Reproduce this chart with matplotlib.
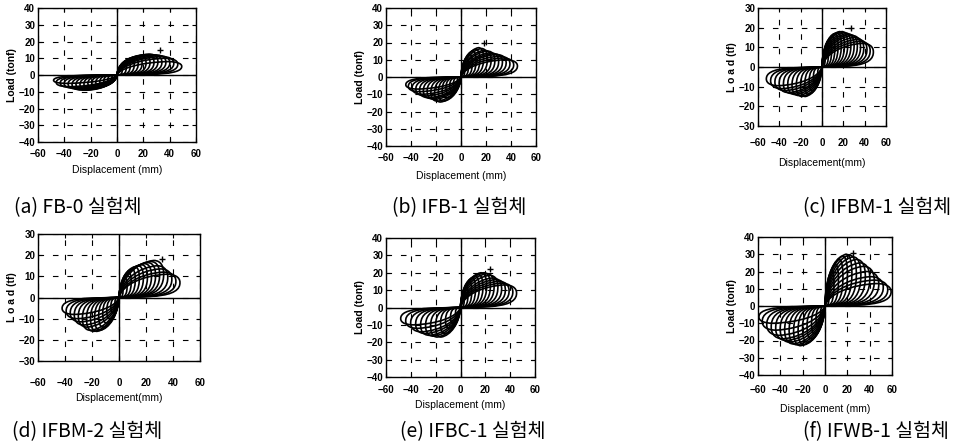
import matplotlib
matplotlib.use("Agg")
import matplotlib.pyplot as plt
from matplotlib.path import Path
from matplotlib.patches import PathPatch

W, H = 955, 445
plt.rcParams['font.family'] = ['Liberation Sans', 'DejaVu Sans']

# ---------------- data ----------------
captions = ["(a) FB-0 실험체", "(b) IFB-1 실험체", "(c) IFBM-1 실험체",
            "(d) IFBM-2 실험체", "(e) IFBC-1 실험체", "(f) IFWB-1 실험체"]

# (a) FB-0
a_pos_disp = [4, 7, 10, 13, 16, 19, 22, 25, 28, 31, 34, 37, 40, 43, 46, 49]
a_pos_load = [5, 7, 8.5, 9.5, 10.5, 11, 11.5, 12, 12, 12.5, 12, 12, 11.5, 11, 10, 8]
a_neg_disp = [-4, -7, -10, -13, -16, -19, -22, -25, -28, -31, -34, -37, -40, -43, -46, -48]
a_neg_load = [-3, -4.5, -5.5, -6.5, -7, -7.5, -8, -8.5, -9, -9, -9, -8.5, -8, -7.5, -7, -5]
a_peak = (33, 15)

# (b) IFB-1
b_pos_disp = [3, 6, 9, 12, 15, 18, 21, 24, 27, 30, 33, 36, 39, 42, 45]
b_pos_load = [7, 11, 13, 15, 16, 17, 16.5, 15.5, 15, 14, 13.5, 13, 12, 11, 10]
b_neg_disp = [-3, -6, -9, -12, -15, -18, -21, -24, -27, -30, -33, -36, -39, -42, -44]
b_neg_load = [-4, -6, -8, -10, -12, -14, -14.5, -14, -13, -12.5, -12, -11, -10, -8.5, -7]
b_peak = (18, 20)

# (c) IFBM-1
c_pos_disp = [3, 6, 9, 12, 15, 18, 21, 24, 27, 30, 33, 36, 39, 42, 45, 48]
c_pos_load = [8, 11, 14, 15.5, 17, 17.5, 18, 18, 17.5, 17, 16.5, 16, 15, 14, 13, 12]
c_neg_disp = [-4, -8, -12, -16, -20, -24, -28, -32, -36, -40, -44, -48, -52]
c_neg_load = [-5, -8, -12, -14, -15, -15, -14.5, -14, -13.5, -13, -12, -11, -9.5]
c_peak = (27, 20)

# (d) IFBM-2
d_pos_disp = [3, 6, 9, 12, 15, 18, 21, 24, 27, 30, 33, 36, 39, 42, 45]
d_pos_load = [6, 9, 12, 13.5, 14.5, 15, 15.5, 16, 16.5, 17, 17.5, 15, 13.5, 12, 11]
d_neg_disp = [-3, -6, -9, -12, -15, -18, -21, -24, -27, -30, -33, -36, -39, -42]
d_neg_load = [-4, -7, -10, -12, -14, -15.5, -16, -16, -15.5, -14, -13, -11.5, -10, -8]
d_peak = (32, 18)

# (e) IFBC-1
e_pos_disp = [3, 6, 9, 12, 15, 18, 21, 24, 27, 30, 33, 36, 39, 42, 45]
e_pos_load = [8, 12, 15, 17, 18, 19, 20, 20, 19.5, 18.5, 17, 16, 15, 14, 13]
e_neg_disp = [-4, -8, -12, -16, -20, -24, -28, -32, -36, -40, -44, -48]
e_neg_load = [-5, -9, -12, -15, -17, -17, -16.5, -16, -15, -14, -12, -10]
e_peak = (24, 22)

# (f) IFWB-1
f_pos_disp = [4, 8, 12, 16, 20, 24, 28, 32, 36, 40, 44, 48, 52, 56, 59]
f_pos_load = [14, 20, 24, 27, 29, 30, 29.5, 28.5, 27, 25, 23, 20, 17, 15, 13]
f_neg_disp = [-4, -8, -12, -16, -20, -24, -28, -32, -36, -40, -44, -48, -52, -56, -59]
f_neg_load = [-7, -12, -16, -19, -21, -22.5, -23, -22.5, -22, -21, -20, -19, -17, -14, -10]
f_peak = (25, 31)

x_ticks = [-60, -40, -20, 0, 20, 40, 60]
y_ticks_40 = [-40, -30, -20, -10, 0, 10, 20, 30, 40]
y_ticks_30 = [-30, -20, -10, 0, 10, 20, 30]

panels = [
    dict(box=(38, 8, 196, 142), yt=y_ticks_40, pd=a_pos_disp, pl=a_pos_load, nd=a_neg_disp, nl=a_neg_load,
         peak=a_peak, ylab="Load (tonf)", xlab="Displacement (mm)", cap=(14, 208), xpad=5, lpad=4),
    dict(box=(386, 8, 536, 146), yt=y_ticks_40, pd=b_pos_disp, pl=b_pos_load, nd=b_neg_disp, nl=b_neg_load,
         peak=b_peak, ylab="Load (tonf)", xlab="Displacement (mm)", cap=(392, 208), xpad=5, lpad=6),
    dict(box=(758, 8, 886, 126), yt=y_ticks_30, pd=c_pos_disp, pl=c_pos_load, nd=c_neg_disp, nl=c_neg_load,
         peak=c_peak, ylab="L o a d (tf)", xlab="Displacement(mm)", cap=(803, 208), xpad=9, lpad=7),
    dict(box=(38, 234, 200, 361), yt=y_ticks_30, pd=d_pos_disp, pl=d_pos_load, nd=d_neg_disp, nl=d_neg_load,
         peak=d_peak, ylab="L o a d (tf)", xlab="Displacement(mm)", cap=(12, 432), xpad=12, lpad=4),
    dict(box=(386, 238, 535, 377), yt=y_ticks_40, pd=e_pos_disp, pl=e_pos_load, nd=e_neg_disp, nl=e_neg_load,
         peak=e_peak, ylab="Load (tonf)", xlab="Displacement (mm)", cap=(400, 432), xpad=6, lpad=3),
    dict(box=(758, 237, 892, 375), yt=y_ticks_40, pd=f_pos_disp, pl=f_pos_load, nd=f_neg_disp, nl=f_neg_load,
         peak=f_peak, ylab="Load (tonf)", xlab="Displacement (mm)", cap=(803, 432), xpad=7, lpad=7),
]

fig = plt.figure(figsize=(W / 100, H / 100), dpi=100)


def lobe(d, p):
    # rounded leaf-shaped half cycle (Bezier) reaching max displacement d and max load p
    verts = [(0, 0),
             (0.05 * d, 0.55 * p), (0.4 * d, 0.95 * p), (0.78 * d, p),
             (0.96 * d, 1.0 * p), (1.02 * d, 0.8 * p), (d, 0.55 * p),
             (0.98 * d, 0.25 * p), (0.82 * d, 0.08 * p), (0.5 * d, 0.04 * p),
             (0.25 * d, 0.01 * p), (0.08 * d, 0.0), (0, 0)]
    codes = [Path.MOVETO] + [Path.CURVE4] * 12
    return Path(verts, codes)


for pn in panels:
    l, t, r, b = pn['box']
    ax = fig.add_axes([l / W, 1 - b / H, (r - l) / W, (b - t) / H])
    ylim = pn['yt'][-1]
    ax.set_xlim(-60, 60)
    ax.set_ylim(-ylim, ylim)
    ax.set_xticks(x_ticks)
    ax.set_yticks(pn['yt'])
    ax.tick_params(direction='in', length=3, width=0.8, labelsize=7, pad=2, top=True, right=True)
    ax.tick_params(axis='x', pad=pn['xpad'])
    for lab in ax.get_xticklabels() + ax.get_yticklabels():
        lab.set_fontweight('bold')
    ax.grid(True, color='black', linestyle=(0, (5, 8)), linewidth=0.8)
    ax.axhline(0, color='black', lw=1.0)
    ax.axvline(0, color='black', lw=1.0)
    for s in ax.spines.values():
        s.set_linewidth(1.0)
    for d, p in zip(pn['pd'], pn['pl']):
        ax.add_patch(PathPatch(lobe(d, p), facecolor='none', edgecolor='black', lw=1.2))
    for d, p in zip(pn['nd'], pn['nl']):
        ax.add_patch(PathPatch(lobe(d, p), facecolor='none', edgecolor='black', lw=1.2))
    ax.plot([pn['peak'][0]], [pn['peak'][1]], marker='+', color='black', ms=4, mew=1)
    ax.set_ylabel(pn['ylab'], fontsize=7.5, labelpad=1, fontweight='bold')
    ax.set_xlabel(pn['xlab'], fontsize=7.5, labelpad=pn['lpad'])

for pn, cap in zip(panels, captions):
    cx, cy = pn['cap']
    fig.text(cx / W, 1 - cy / H, cap, fontsize=14, ha='left', va='center',
             family=['Noto Sans CJK KR', 'DejaVu Sans'])

fig.savefig("out.png", dpi=100)
